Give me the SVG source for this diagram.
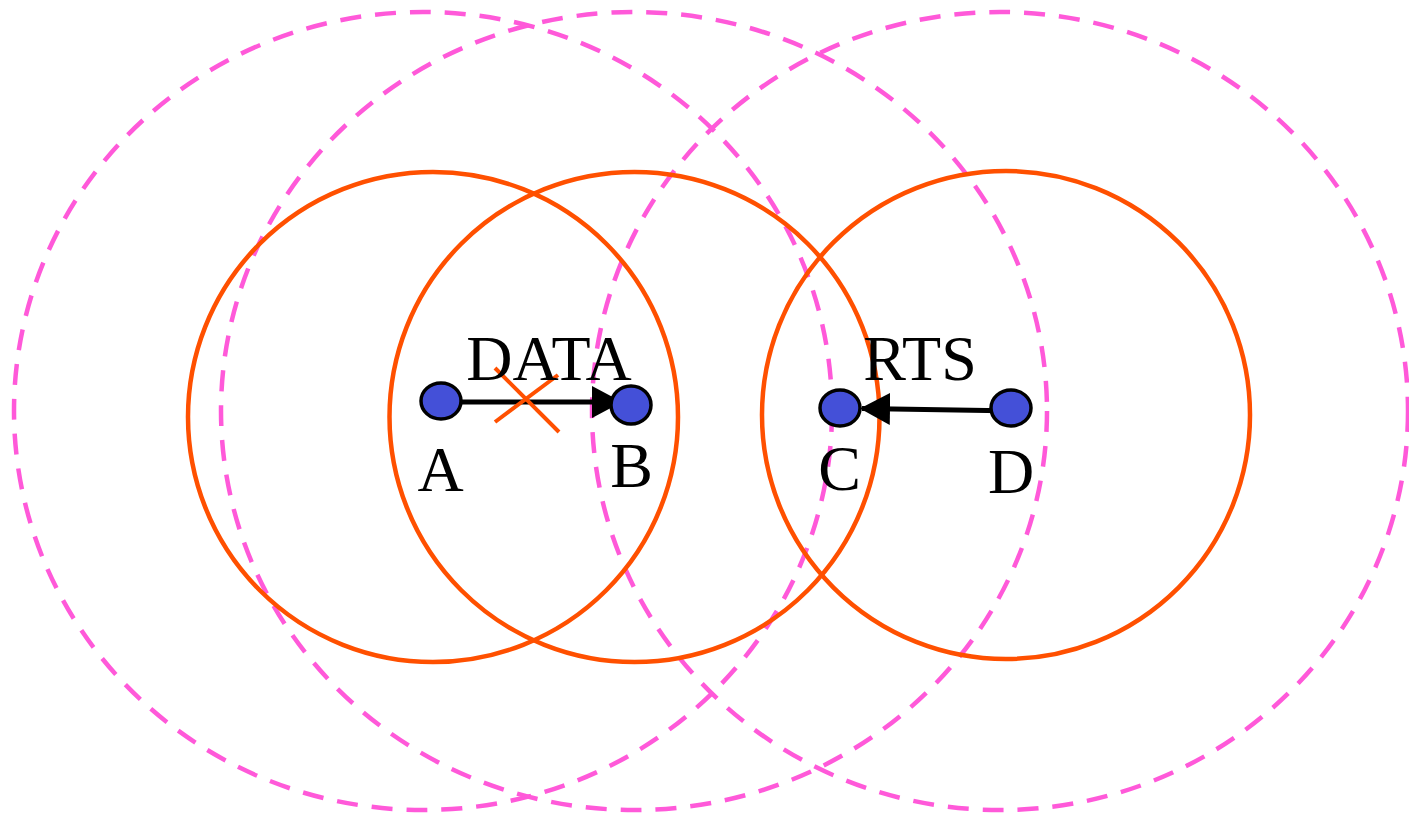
<svg xmlns="http://www.w3.org/2000/svg" width="1409" height="817" viewBox="0 0 1409 817">
<style>
.range{fill:none;stroke:#ff59d9;stroke-width:4.5;stroke-dasharray:21 14}
.cov{fill:none;stroke:#ff5000;stroke-width:4.5}
.node{fill:#4450d8;stroke:#000;stroke-width:3.5}
.lbl{font-family:"Liberation Serif","Times New Roman",serif;font-size:64px;fill:#000;text-anchor:middle}
.edge{stroke:#000;stroke-width:5;fill:none}
</style>
<defs>
<marker id="ah" markerUnits="userSpaceOnUse" markerWidth="30" markerHeight="32" refX="28" refY="16" orient="auto">
<path d="M0,0 L30,16 L0,32 Z" fill="#000"/>
</marker>
</defs>
<g id="ranges">
<ellipse class="range" cx="423" cy="411" rx="409" ry="399"/>
<ellipse class="range" cx="634" cy="411" rx="413" ry="399"/>
<ellipse class="range" cx="1000" cy="411" rx="408" ry="399"/>
</g>
<g id="coverage">
<circle class="cov" cx="433" cy="417" r="245"/>
<circle class="cov" cx="634.5" cy="417" r="245"/>
<circle class="cov" cx="1006" cy="415" r="244"/>
</g>
<g id="connectors">
<line class="edge" x1="441" y1="402" x2="620" y2="402" marker-end="url(#ah)"/>
<line class="edge" x1="1018" y1="411" x2="862" y2="408.5" marker-end="url(#ah)"/>
</g>
<g id="cross">
<line x1="495" y1="368" x2="559" y2="432" stroke="#ff5000" stroke-width="4"/>
<line x1="495" y1="422" x2="558" y2="375" stroke="#ff5000" stroke-width="4"/>
</g>
<g id="nodeA"><ellipse class="node" cx="441" cy="401" rx="20" ry="18"/><text class="lbl" x="440.5" y="491">A</text></g>
<g id="nodeB"><ellipse class="node" cx="631" cy="405" rx="20" ry="19"/><text class="lbl" x="631.5" y="487">B</text></g>
<g id="nodeC"><ellipse class="node" cx="840" cy="408" rx="20" ry="18"/><text class="lbl" x="839.5" y="490">C</text></g>
<g id="nodeD"><ellipse class="node" cx="1011" cy="408" rx="20" ry="18"/><text class="lbl" x="1011" y="493">D</text></g>
<g id="labels">
<text class="lbl" x="549" y="380">DATA</text>
<text class="lbl" x="920" y="380">RTS</text>
</g>
</svg>
